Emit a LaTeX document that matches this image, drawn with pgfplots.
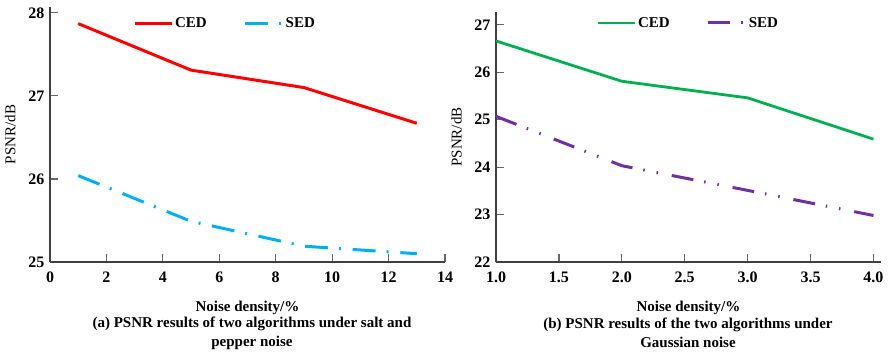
\documentclass[border=0pt]{standalone}
\usepackage{fontspec}
\setmainfont{Liberation Serif}
\usepackage{pgfplots}
\pgfplotsset{compat=1.18}
\definecolor{cred}{RGB}{255,0,0}
\definecolor{cblue}{RGB}{0,176,240}
\definecolor{cgreen}{RGB}{0,176,80}
\definecolor{cpurple}{RGB}{112,48,160}
\newcommand{\ff}{\bfseries\fontsize{15bp}{19bp}\selectfont}
\newcommand{\tf}{\bfseries\fontsize{16bp}{19bp}\selectfont}
\pgfplotsset{
  mystyle/.style={
    scale only axis,
    axis lines=left,
    axis line style={-, black!75, line width=1.2bp},
    tick style={black!60, line width=1.2bp},
    tick align=inside,
    major tick length=8bp,
    font=\ff,
    tick label style={font=\tf},
    xticklabel style={yshift=-6bp},
    yticklabel style={xshift=-2bp},
    xlabel style={font=\ff, yshift=-12bp},
    ylabel style={font=\fontsize{15bp}{19bp}\selectfont, yshift=6bp},
    /pgf/number format/assume math mode=true,
    legend style={draw=none, fill=none, font=\ff, legend columns=2,
      /tikz/every even column/.append style={column sep=35bp},
      anchor=center},
    legend image code/.code={\draw[#1] (0bp,0bp) -- (37bp,0bp);},
    ylabel={PSNR/dB},
    xlabel={Noise density/\%},
  }
}
\begin{document}
\begin{tikzpicture}[x=1bp,y=1bp]
\path[use as bounding box] (0,0) rectangle (892,353);
% left panel
\begin{axis}[mystyle,
  at={(50bp,91bp)}, anchor=south west,
  width=395bp, height=255bp,
  xmin=0, xmax=14, ymin=25, ymax=28.07,
  xtick={0,2,...,14}, ytick={25,26,27,28},
  legend style={at={(axis description cs:0.443,0.937)}},
]
\addplot[cred, line width=3bp] coordinates {(1,27.87) (5,27.31) (9,27.10) (13,26.67)};
\addlegendentry{CED}
\addplot[cblue, line width=3bp, dash pattern=on 23bp off 11bp on 2bp off 11.7bp] coordinates {(1,26.04) (5,25.49) (9,25.19) (13,25.10)};
\addlegendentry{SED}
\end{axis}
% right panel
\begin{axis}[mystyle,
  at={(496bp,91bp)}, anchor=south west,
  width=385bp, height=250bp,
  xmin=1, xmax=4.06, ymin=22, ymax=27.27,
  xtick={1,1.5,...,4}, ytick={22,...,27},
  xticklabel style={/pgf/number format/.cd, fixed, fixed zerofill, precision=1},
  legend style={at={(axis description cs:0.499,0.956)}},
]
\addplot[cgreen, line width=2.8bp] coordinates {(1,26.66) (2,25.81) (3,25.46) (4,24.59)};
\addlegendentry{CED}
\addplot[cpurple, line width=3bp, dash pattern=on 22bp off 11bp on 1.5bp off 12bp on 1.5bp off 14bp] coordinates {(1,25.07) (2,24.03) (3,23.51) (4,22.98)};
\addlegendentry{SED}
\end{axis}
\node[align=center, font=\ff] at (252,20) {(a) PSNR results of two algorithms under salt and\\pepper noise};
\node[align=center, font=\ff] at (688,20) {(b) PSNR results of the two algorithms under\\Gaussian noise};
\end{tikzpicture}
\end{document}
